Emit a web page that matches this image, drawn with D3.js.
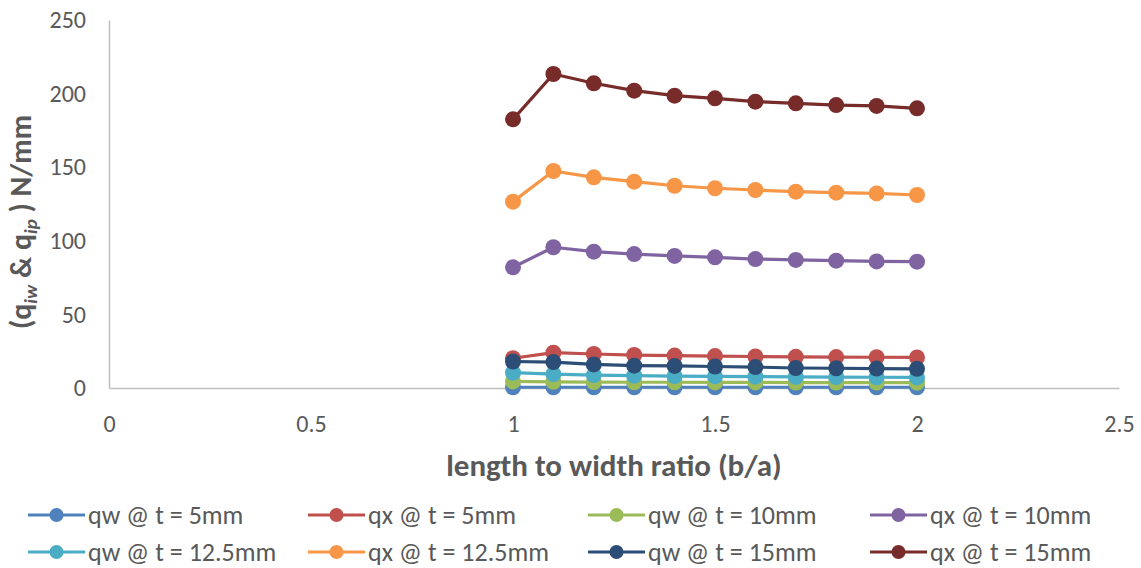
<!DOCTYPE html>
<html><head><meta charset="utf-8">
<script src="https://cdn.jsdelivr.net/npm/d3@7"></script>
<style>body{margin:0;background:#fff;} svg{display:block;font-family:Carlito,Lato,"Liberation Sans",sans-serif;}</style>
</head><body>
<svg id="c" width="1141" height="568"></svg>
<script>
const ratios = [1.0,1.1,1.2,1.3,1.4,1.5,1.6,1.7,1.8,1.9,2.0];
const qw5   = [0.5,0.5,0.5,0.5,0.5,0.5,0.5,0.5,0.5,0.5,0.5];
const qx5   = [20.2,24.0,23.1,22.4,22.0,21.7,21.4,21.2,21.0,20.9,20.8];
const qw10  = [4.5,4.2,4.0,3.9,3.9,3.8,3.8,3.7,3.7,3.7,3.6];
const qx10  = [82.0,95.6,92.6,91.0,89.7,88.8,87.6,87.0,86.5,86.0,85.8];
const qw125 = [10.4,9.4,8.8,8.4,8.1,7.9,7.7,7.5,7.4,7.3,7.2];
const qx125 = [126.6,147.4,143.1,140.2,137.4,135.7,134.5,133.4,132.7,132.2,131.1];
const qw15  = [18.0,17.6,16.0,15.2,15.0,14.6,14.2,13.6,13.4,13.2,13.0];
const qx15  = [182.5,213.3,207.0,202.0,198.6,196.8,194.5,193.4,192.2,191.6,190.0];
const seriesNames = ["qw @ t = 5mm","qx @ t = 5mm","qw @ t = 10mm","qx @ t = 10mm","qw @ t = 12.5mm","qx @ t = 12.5mm","qw @ t = 15mm","qx @ t = 15mm"];
const seriesValues = [qw5,qx5,qw10,qx10,qw125,qx125,qw15,qx15];
const colors = ["#4F81BD","#C0504D","#9BBB59","#8064A2","#4BACC6","#F79646","#2C4D75","#772C2A"];
const xTicks = [0,0.5,1,1.5,2,2.5];
const yTicks = [0,50,100,150,200,250];

const svg = d3.select("#c");
const x = d3.scaleLinear().domain([0,2.5]).range([109,1119]);
const y = d3.scaleLinear().domain([0,250]).range([388,20]);

// axes
const yAxis = svg.append("g").attr("transform","translate(109,0)")
  .call(d3.axisLeft(y).tickValues(yTicks).tickSize(0).tickPadding(23));
yAxis.select(".domain").attr("stroke","#BFBFBF").attr("stroke-width",1.5);
yAxis.selectAll("text").attr("font-size",24).attr("fill","#595959").attr("font-family","Carlito,Lato,sans-serif");

const xAxis = svg.append("g").attr("transform","translate(0,388)")
  .call(d3.axisBottom(x).tickValues(xTicks).tickSize(0).tickPadding(44).tickFormat(d3.format("")));
xAxis.select(".domain").attr("stroke","#BFBFBF").attr("stroke-width",1.5);
xAxis.selectAll("text").attr("font-size",24).attr("fill","#595959").attr("dy","0em").attr("font-family","Carlito,Lato,sans-serif");

// titles
svg.append("text").attr("x",614).attr("y",476).attr("text-anchor","middle")
  .attr("font-size",31).attr("font-weight","bold").attr("fill","#595959")
  .text("length to width ratio (b/a)");

const yt = svg.append("text").attr("transform","translate(31,222) rotate(-90)")
  .attr("text-anchor","middle").attr("font-size",30).attr("font-weight","bold").attr("fill","#595959");
yt.append("tspan").text("(q");
yt.append("tspan").attr("font-style","italic").attr("font-size",19).attr("dy",6).text("iw");
yt.append("tspan").attr("dy",-6).text("  & q");
yt.append("tspan").attr("font-style","italic").attr("font-size",19).attr("dy",6).text("ip");
yt.append("tspan").attr("dy",-6).text(" ) N/mm");

// series
const line = d3.line().x((d,i)=>x(ratios[i])).y(d=>y(d));
seriesValues.forEach((vals,k)=>{
  const g = svg.append("g");
  g.append("path").datum(vals).attr("d",line).attr("fill","none")
    .attr("stroke",colors[k]).attr("stroke-width",3.2).attr("stroke-linejoin","round");
  g.selectAll("circle").data(vals).join("circle")
    .attr("cx",(d,i)=>x(ratios[i])).attr("cy",d=>y(d)).attr("r",8).attr("fill",colors[k]);
});

// legend
const legCols = [28,308,588,870];
const legRows = [515,552];
seriesNames.forEach((name,k)=>{
  const lx = legCols[k%4], ly = legRows[Math.floor(k/4)];
  const g = svg.append("g");
  g.append("line").attr("x1",lx).attr("x2",lx+57).attr("y1",ly).attr("y2",ly)
    .attr("stroke",colors[k]).attr("stroke-width",3.2);
  g.append("circle").attr("cx",lx+28.5).attr("cy",ly).attr("r",7).attr("fill",colors[k]);
  g.append("text").attr("x",lx+60).attr("y",ly).attr("dy","0.35em")
    .attr("font-size",26).attr("fill","#595959").text(name);
});
</script>
</body></html>
